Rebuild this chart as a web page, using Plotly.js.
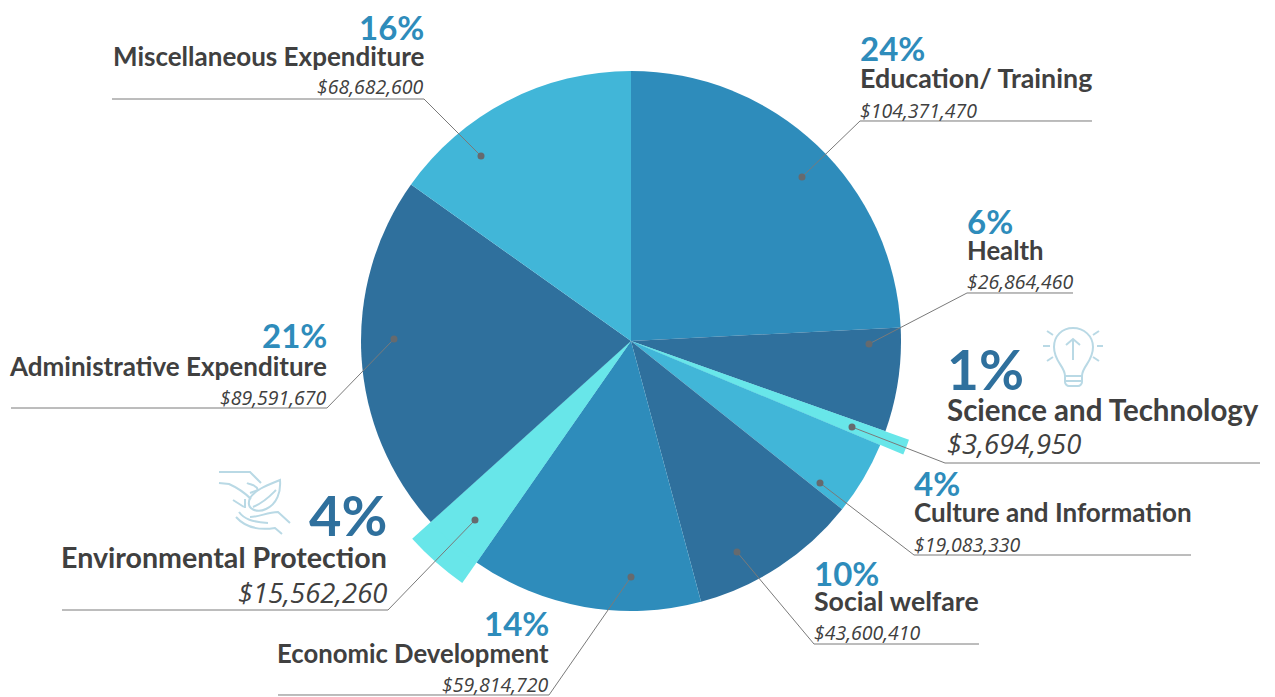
<!DOCTYPE html>
<html><head><meta charset="utf-8">
<script src="https://cdn.plot.ly/plotly-3.0.1.min.js"></script>
<style>html,body{margin:0;padding:0;background:#fff;overflow:hidden}</style>
</head><body><div id="chart" style="width:1275px;height:697px"></div>
<script>
const categories=["Education/ Training","Health","Science and Technology","Culture and Information","Social welfare","Economic Development","Environmental Protection","Administrative Expenditure","Miscellaneous Expenditure"];
const amounts=[104371470,26864460,3694950,19083330,43600410,59814720,15562260,89591670,68682600];
const percents=["24%","6%","1%","4%","10%","14%","4%","21%","16%"];
// Slice sizes as drawn in the picture (the last two arcs differ slightly from their printed amounts)
const drawnValues=[104371470,26864460,3694950,19083330,43600410,59814720,15562260,92900000,65370000];

const sliceColors=["#2e8cbb","#2f709d","#68e6e9","#41b6d8","#2f709d","#2e8cbb","#68e6e9","#2f709d","#41b6d8"];
const wedgeColors=["rgba(0,0,0,0)","rgba(0,0,0,0)","#68e6e9","rgba(0,0,0,0)","rgba(0,0,0,0)","rgba(0,0,0,0)","#68e6e9","rgba(0,0,0,0)","rgba(0,0,0,0)"];
const W=1275,H=697,CX=631,CY=341,R=270,R_WEDGE=295;

const px=x=>x/W, py=y=>1-y/H;
const money=v=>"$"+v.toLocaleString("en-US");

const place=[
 {x:859,a:"left", yp:48, yl:78, yv:110,line:[860,1092,121],dot:[802,177],sp:33,sl:26.8,sv:19.5,c:"#2e8cbb"},
 {x:966,a:"left", yp:221,yl:250,yv:282,line:[967,1073,293],dot:[869,344],sp:33,sl:25.7,sv:19.5,c:"#2e8cbb"},
 {x:946,a:"left", yp:369,yl:409,yv:444,line:[945,1260,463],dot:[852,427],sp:55,sl:29.5,sv:27.4,c:"#2f709d"},
 {x:913,a:"left", yp:483,yl:512,yv:544,line:[914,1191,555],dot:[820,483],sp:33,sl:26,sv:19.5,c:"#2e8cbb"},
 {x:813,a:"left", yp:573,yl:601,yv:632,line:[814,979,644],dot:[737,552],sp:33,sl:26.7,sv:19.5,c:"#2e8cbb"},
 {x:550,a:"right",yp:623,yl:653,yv:684,line:[278,549,695],dot:[631,577],sp:33,sl:25.7,sv:19.5,c:"#2e8cbb"},
 {x:388,a:"right",yp:514,yl:557,yv:592,line:[62,388,610],dot:[475,520],sp:56,sl:28.6,sv:27.4,c:"#2f709d"},
 {x:328,a:"right",yp:335,yl:366,yv:397,line:[11,327,408],dot:[394,339],sp:33,sl:26,sv:19.5,c:"#2e8cbb"},
 {x:425,a:"right",yp:27, yl:56, yv:87, line:[112,424,99],dot:[481,156],sp:33,sl:26,sv:19.5,c:"#2e8cbb"}
];

const LABEL_FONT="Lato", VALUE_FONT="Open Sans";
const annotations=[],shapes=[];
function note(text,x,y,a,size,color,family,weight,style){
  annotations.push({text:text,xref:"paper",yref:"paper",x:px(x),y:py(y),xanchor:a,yanchor:"middle",showarrow:false,
    borderpad:0,font:{family:family,size:size,color:color,weight:weight,style:style}});
}
const toPaperPath=d=>{let i=0;return d.replace(/-?\d+(\.\d+)?/g,n=>{const v=i++%2===0?px(+n):py(+n);return v.toFixed(5);});};

categories.forEach((name,i)=>{
  const p=place[i];
  note(percents[i],p.x,p.yp,p.a,p.sp,p.c,LABEL_FONT,700,"normal");
  note(name,p.x,p.yl,p.a,p.sl,"#404040",LABEL_FONT,700,"normal");
  note(money(amounts[i]),p.x,p.yv,p.a,p.sv,"#404040",VALUE_FONT,400,"italic");
  const [x0,x1,y]=p.line;
  const elbow=p.a==="left"?x0:x1;
  const far=p.a==="left"?x1:x0;
  shapes.push({type:"path",xref:"paper",yref:"paper",
    path:toPaperPath(`M ${far} ${y} L ${elbow} ${y} L ${p.dot[0]} ${p.dot[1]}`),
    line:{color:"#7a7a7a",width:1}});
  shapes.push({type:"circle",xref:"paper",yref:"paper",x0:px(p.dot[0]-3.5),x1:px(p.dot[0]+3.5),
    y0:py(p.dot[1]+3.5),y1:py(p.dot[1]-3.5),fillcolor:"#666a6e",line:{width:0}});
});

const ICON="#b9d9e5";
const iconPaths=[
 "M 1065 376 C 1065 366 1054 362 1054 347 C 1054 336 1062 328 1073 328 C 1084 328 1093 336 1093 347 C 1093 362 1082 366 1082 376 Z",
 "M 1065 376 L 1065 382 C 1065 384 1067 386 1069 386 L 1078 386 C 1080 386 1082 384 1082 382 L 1082 376",
 "M 1066 381 L 1081 381",
 "M 1073 360 L 1073 339 M 1066 345 L 1073 339 L 1080 345",
 "M 1043 346 L 1050 346 M 1097 346 L 1103 346 M 1047 331 L 1053 335 M 1099 331 L 1093 335 M 1047 361 L 1053 357 M 1099 361 L 1093 357",
 "M 219 472 L 250 472 L 261 483",
 "M 219 483 L 229 484 C 238 488 246 494 251 499",
 "M 247 483 C 250 485 256 484 258 490 L 250 493",
 "M 280 480 C 268 485 256 489 250 498 C 245 510 258 513 266 509 C 277 504 281 492 280 480 Z",
 "M 253 507 C 265 502 272 494 276 490",
 "M 233 500 L 244 507 M 245 499 L 245 508",
 "M 239 512 C 244 519 252 522 268 523",
 "M 236 517 C 244 526 256 531 275 528 L 282 534",
 "M 250 517 C 260 517 267 512 278 512 L 290 523"
];
iconPaths.forEach(d=>shapes.push({type:"path",xref:"paper",yref:"paper",path:toPaperPath(d),line:{color:ICON,width:2}}));

const dom=r=>({x:[px(CX-r),px(CX+r)],y:[py(CY+r),py(CY-r)]});
const pieBase={type:"pie",labels:categories,values:drawnValues,sort:false,direction:"clockwise",rotation:0,
  textinfo:"none",showlegend:false};
const wedges=Object.assign({},pieBase,{hoverinfo:"skip",marker:{colors:wedgeColors,line:{width:0}},domain:dom(R_WEDGE)});
const main=Object.assign({},pieBase,{hoverinfo:"label+percent",marker:{colors:sliceColors,line:{width:0}},domain:dom(R)});

Plotly.newPlot("chart",[wedges,main],{width:W,height:H,margin:{l:0,r:0,t:0,b:0},paper_bgcolor:"#fff",showlegend:false,
  annotations:annotations,shapes:shapes},{displayModeBar:false,responsive:false});
</script></body></html>
